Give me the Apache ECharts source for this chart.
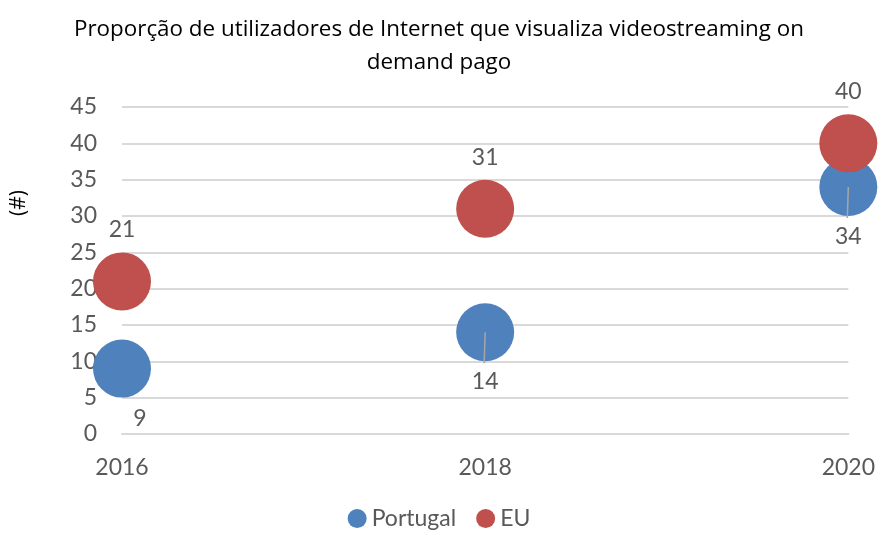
<!DOCTYPE html>
<html>
<head>
<meta charset="utf-8">
<script src="https://cdn.jsdelivr.net/npm/echarts@6/dist/echarts.min.js"></script>
<style>
	html, body { margin: 0; padding: 0; background: #fff; }
	#main { width: 878px; height: 537px; }
</style>
</head>
<body>
<div id="main"></div>
<script>
'use strict';

// chart data
var years = [2016, 2018, 2020];
var portugal = [9, 14, 34];
var eu = [21, 31, 40];
var yTicks = [0, 5, 10, 15, 20, 25, 30, 35, 40, 45];

var myChart = echarts.init(document.getElementById('main'));

var labelFont = 'Lato';
var grey = '#595959';
var labelSize = 23;

// pairs of [year, value] for the scatter series
function toPoints(values) {
	var points = [];
	for (var i = 0; i < years.length; i++) {
		points.push([years[i], values[i]]);
	}
	return points;
}

var ptData = toPoints(portugal);
// first label sits right of the bubble, the others below with a leader line
ptData = ptData.map(function(p, i) {
	if (i === 0) {
		return { value: p, label: { offset: [18, 0] } };
	}
	return { value: p };
});

var option = {
	title: {
		text: 'Proporção de utilizadores de Internet que visualiza videostreaming on\ndemand pago',
		left: 'center',
		top: 8,
		textStyle: {
			fontFamily: 'Open Sans',
			fontWeight: 'normal',
			fontSize: 22.4,
			color: '#000',
			lineHeight: 33
		}
	},
	grid: {
		left: 122,
		right: 28,
		top: 107,
		bottom: 103
	},
	xAxis: {
		type: 'value',
		min: years[0],
		max: years[years.length - 1],
		interval: 2,
		axisLine: { show: true, lineStyle: { color: '#d9d9d9', width: 2 } },
		axisTick: { show: false },
		splitLine: { show: false },
		axisLabel: {
			color: grey,
			fontFamily: labelFont,
			fontSize: labelSize,
			margin: 22,
			formatter: function(v) { return String(v); }
		}
	},
	yAxis: {
		type: 'value',
		min: yTicks[0],
		max: yTicks[yTicks.length - 1],
		interval: 5,
		axisLine: { show: false },
		axisTick: { show: false },
		splitLine: { lineStyle: { color: '#d9d9d9', width: 2 } },
		axisLabel: {
			color: grey,
			fontFamily: labelFont,
			fontSize: labelSize,
			margin: 25
		}
	},
	graphic: [{
		type: 'text',
		left: 9,
		top: 190,
		rotation: Math.PI / 2,
		style: {
			text: '(#)',
			fill: '#000',
			font: '21px "Open Sans"'
		}
	}],
	legend: {
		bottom: 2,
		left: 'center',
		icon: 'circle',
		itemWidth: 19,
		itemHeight: 19,
		itemGap: 20,
		textStyle: {
			color: grey,
			fontFamily: labelFont,
			fontSize: labelSize
		}
	},
	series: [
		{
			name: 'Portugal',
			type: 'scatter',
			symbolSize: 58,
			itemStyle: { color: '#4f81bd', opacity: 1 },
			data: ptData,
			label: {
				show: true,
				position: 'bottom',
				distance: 9,
				color: grey,
				fontFamily: labelFont,
				fontSize: labelSize,
				formatter: function(p) { return p.value[1]; }
			},
			z: 2
		},
		{
			name: 'EU',
			type: 'scatter',
			symbolSize: 58,
			itemStyle: { color: '#c0504d', opacity: 1 },
			data: toPoints(eu),
			label: {
				show: true,
				position: 'top',
				distance: 11,
				color: grey,
				fontFamily: labelFont,
				fontSize: labelSize,
				formatter: function(p) { return p.value[1]; }
			},
			z: 3
		},
		{
			// leader lines from bubble centre to the Portugal labels
			name: 'leader',
			type: 'custom',
			silent: true,
			z: 4,
			data: toPoints(portugal).slice(1),
			renderItem: function(params, api) {
				var c = api.coord([api.value(0), api.value(1)]);
				return {
					type: 'line',
					shape: { x1: c[0], y1: c[1], x2: c[0] - 1, y2: c[1] + 31 },
					style: { stroke: '#a6a6a6', lineWidth: 1.5 }
				};
			}
		}
	]
};

option.legend.data = ['Portugal', 'EU'];

myChart.setOption(option);
</script>
</body>
</html>
